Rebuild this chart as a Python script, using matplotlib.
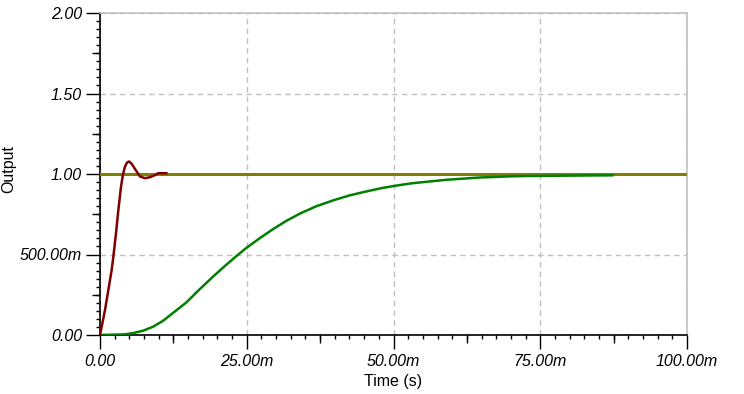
import numpy as np
import matplotlib
matplotlib.use('Agg')
import matplotlib.pyplot as plt
from matplotlib.ticker import FixedLocator, MultipleLocator

# time in ms, output values
t_red = [0, 0.4, 0.85, 1.42, 1.98, 2.27, 2.72, 3.12, 3.57, 3.9, 4.25, 4.55, 4.8,
         5.0, 5.4, 5.95, 6.8, 7.65, 8.5, 9.35, 9.9, 11.3]
v_red = [0, 0.072, 0.155, 0.279, 0.402, 0.485, 0.63, 0.774, 0.918, 0.995, 1.045,
         1.068, 1.076, 1.077, 1.063, 1.032, 0.985, 0.974, 0.98, 0.993, 1.005, 1.005]

t_green = [0, 4.25, 5.67, 7.37, 9.07, 10.77, 12.47, 14.74, 17.0, 19.27, 21.5,
           23.2, 24.9, 27.2, 29.5, 31.7, 34.0, 36.8, 39.7, 42.5, 45.4, 48.2,
           51.0, 53.3, 59.0, 64.6, 70.3, 74.2, 80.0, 87.3]
v_green = [0, 0.004, 0.012, 0.027, 0.052, 0.089, 0.138, 0.203, 0.285, 0.363,
           0.436, 0.489, 0.540, 0.601, 0.658, 0.708, 0.753, 0.799, 0.836, 0.867,
           0.892, 0.914, 0.931, 0.943, 0.964, 0.978, 0.986, 0.988, 0.99, 0.992]

t_ref = [0, 100]
v_ref = [1.0, 1.0]

x_ticks = [0, 25, 50, 75, 100]
x_labels = ['0.00', '25.00m', '50.00m', '75.00m', '100.00m']
y_ticks = [0, 0.5, 1.0, 1.5, 2.0]
y_labels = ['0.00', '500.00m', '1.00', '1.50', '2.00']

plt.rcParams['font.family'] = ['Liberation Sans', 'DejaVu Sans']

fig = plt.figure(figsize=(7.44, 3.94), dpi=100)
ax = fig.add_axes([100/744, 59/394, 587/744, 322/394])

ax.plot(t_ref, v_ref, color='#808000', lw=2.2, zorder=3)
ax.plot(t_green, v_green, color='#008000', lw=1.8, zorder=4)
ax.plot(t_red, v_red, color='#800000', lw=1.8, zorder=5)

ax.set_xlim(0, 100)
ax.set_ylim(0, 2)

ax.xaxis.set_major_locator(FixedLocator(x_ticks))
ax.set_xticklabels(x_labels, fontstyle='italic', fontsize=11.5)
ax.yaxis.set_major_locator(FixedLocator(y_ticks))
ax.set_yticklabels(y_labels, fontstyle='italic', fontsize=11.5)
ax.xaxis.set_minor_locator(MultipleLocator(2.5))
ax.yaxis.set_minor_locator(MultipleLocator(0.05))

ax.tick_params(which='major', direction='out', length=10, width=1, color='black', pad=3)
ax.tick_params(axis='x', which='major', pad=4)
ax.tick_params(which='minor', direction='out', length=3, width=1, color='black')

# medium ticks
sx = ax.secondary_xaxis('bottom')
sx.set_xticks([12.5, 37.5, 62.5, 87.5])
sx.tick_params(length=6, width=1, labelbottom=False)
sx.spines['bottom'].set_visible(False)
sy = ax.secondary_yaxis('left')
sy.set_yticks([0.25, 0.75, 1.25, 1.75])
sy.tick_params(length=6, width=1, labelleft=False)
sy.spines['left'].set_visible(False)

ax.grid(True, which='major', color='#c0c0c0', linestyle=(0, (4, 3)), lw=1)
for s in ['top', 'right']:
    ax.spines[s].set_color('#c0c0c0')
    ax.spines[s].set_linewidth(1.2)
for s in ['left', 'bottom']:
    ax.spines[s].set_color('black')
    ax.spines[s].set_linewidth(1.2)

ax.set_xlabel('Time (s)', fontsize=11.5)
ax.xaxis.set_label_coords(0.5, -0.122)
ax.set_ylabel('Output', fontsize=11.5)
ax.yaxis.set_label_coords(-0.142, 0.515)

fig.savefig('out.png', dpi=100)
